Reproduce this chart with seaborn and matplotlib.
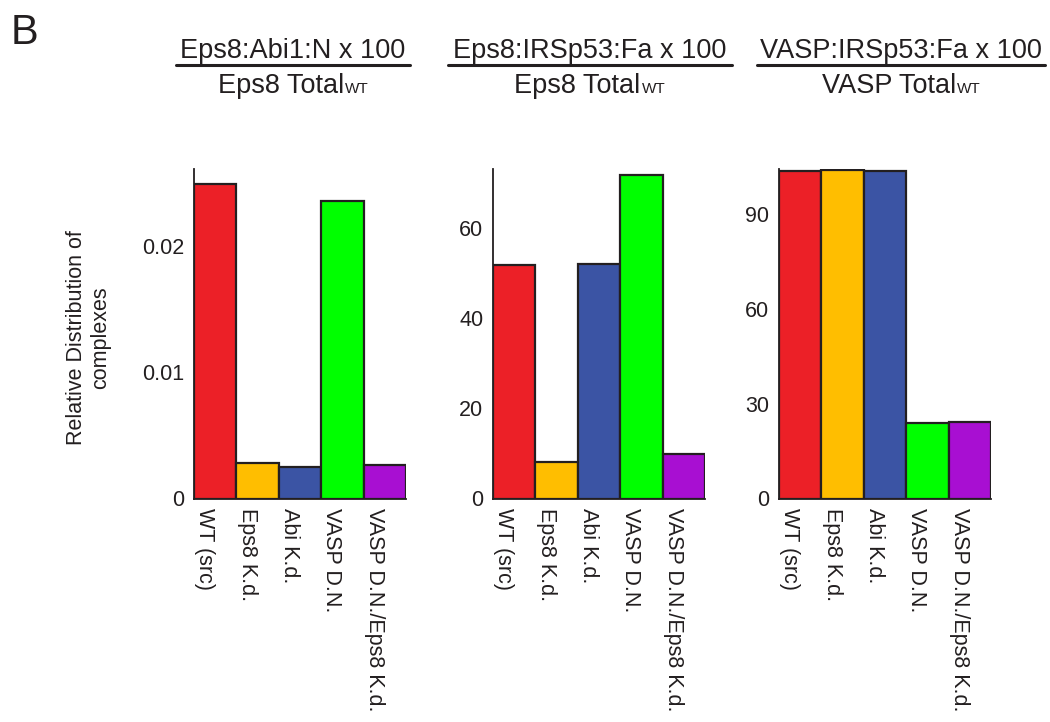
import matplotlib
matplotlib.use("Agg")
import matplotlib.pyplot as plt
import seaborn as sns
from matplotlib.lines import Line2D
from matplotlib.transforms import ScaledTranslation

# ---- data ----
categories = ["WT (src)", "Eps8 K.d.", "Abi K.d.", "VASP D.N.", "VASP D.N./Eps8 K.d."]
abi_values = [0.0249, 0.0028, 0.0025, 0.0235, 0.00265]
irsp_values = [51.8, 8.1, 52.0, 71.7, 9.9]
vasp_values = [103.6, 103.9, 103.6, 24.0, 24.2]

abi_ticks = [0, 0.01, 0.02]
abi_ticklabels = ["0", "0.01", "0.02"]
irsp_ticks = [0, 20, 40, 60]
vasp_ticks = [0, 30, 60, 90]

numerators = ["Eps8:Abi1:N x 100", "Eps8:IRSp53:Fa x 100", "VASP:IRSp53:Fa x 100"]
denominators = ["Eps8 Total", "Eps8 Total", "VASP Total"]
subscript = "WT"
ylabel = "Relative Distribution of\ncomplexes"
panel_letter = "B"

colors = ["#EC2027", "#FFBE00", "#3B54A4", "#00FF00", "#A80FD2"]

sns.set_style("white")
plt.rcParams["font.family"] = ["Liberation Sans", "DejaVu Sans"]

W, H = 1050, 722
fig = plt.figure(figsize=(10.5, 7.22), dpi=100)

bottom_px, top_px = 498.5, 169
ax_lefts = [194, 493, 779]
ax_width_px = 212
ylims = [(0, 0.02605), (0, 73.1), (0, 104.3)]
data_sets = [abi_values, irsp_values, vasp_values]
ticks = [abi_ticks, irsp_ticks, vasp_ticks]

edge = "#231F20"
axes = []
for i in range(3):
    ax = fig.add_axes([ax_lefts[i] / W, 1 - bottom_px / H, ax_width_px / W, (bottom_px - top_px) / H])
    sns.barplot(x=categories, y=data_sets[i], hue=categories, palette=colors, legend=False,
                width=1.0, edgecolor=edge, linewidth=1.6, saturation=1, ax=ax)
    ax.set_xlim(-0.5, 4.5)
    ax.set_ylim(*ylims[i])
    ax.set_yticks(ticks[i])
    if i == 0:
        ax.set_yticklabels(abi_ticklabels)
    ax.set_xticks(range(len(categories)))
    ax.set_xticklabels(categories, rotation=270, ha="right", va="top")
    shift = ScaledTranslation(2.5 / 100, 0, fig.dpi_scale_trans)
    for lab in ax.get_xticklabels():
        lab.set_transform(lab.get_transform() + shift)
    ax.tick_params(axis="both", length=0, labelsize=15.5, colors="#231F20")
    ax.tick_params(axis="y", pad=7)
    ax.tick_params(axis="x", pad=7)
    sns.despine(ax=ax)
    for s in ["left", "bottom"]:
        ax.spines[s].set_linewidth(1.3)
        ax.spines[s].set_color(edge)
    ax.set_xlabel("")
    ax.set_ylabel("")
    axes.append(ax)

# y label
fig.text(89 / W, 1 - 338 / H, ylabel, rotation=90, ha="center", va="center",
         fontsize=15.5, multialignment="center", color="#231F20")

# panel letter
fig.text(11 / W, 1 - 44 / H, panel_letter, fontsize=30, ha="left", va="baseline", color="#231F20")

# fraction titles
line_spans = [(176, 410), (448, 732), (757, 1045)]
renderer = fig.canvas.get_renderer()
for i in range(3):
    x0, x1 = line_spans[i]
    cx = (x0 + x1) / 2
    fig.text(cx / W, 1 - 58 / H, numerators[i], fontsize=19.5, ha="center", va="baseline",
             color="#231F20")
    fig.add_artist(Line2D([x0 / W, x1 / W], [1 - 64.5 / H, 1 - 64.5 / H], color="#231F20",
                          linewidth=2.2, transform=fig.transFigure))
    main = fig.text(0, 0, denominators[i], fontsize=19.5, ha="left", va="baseline", color="#231F20")
    sub = fig.text(0, 0, subscript, fontsize=11, ha="left", va="baseline", color="#231F20")
    w1 = main.get_window_extent(renderer).width
    w2 = sub.get_window_extent(renderer).width
    left = cx - (w1 + w2 + 1) / 2
    main.set_position((left / W, 1 - 93 / H))
    sub.set_position(((left + w1 + 1) / W, 1 - 93 / H))

fig.savefig("out.png", dpi=100)
